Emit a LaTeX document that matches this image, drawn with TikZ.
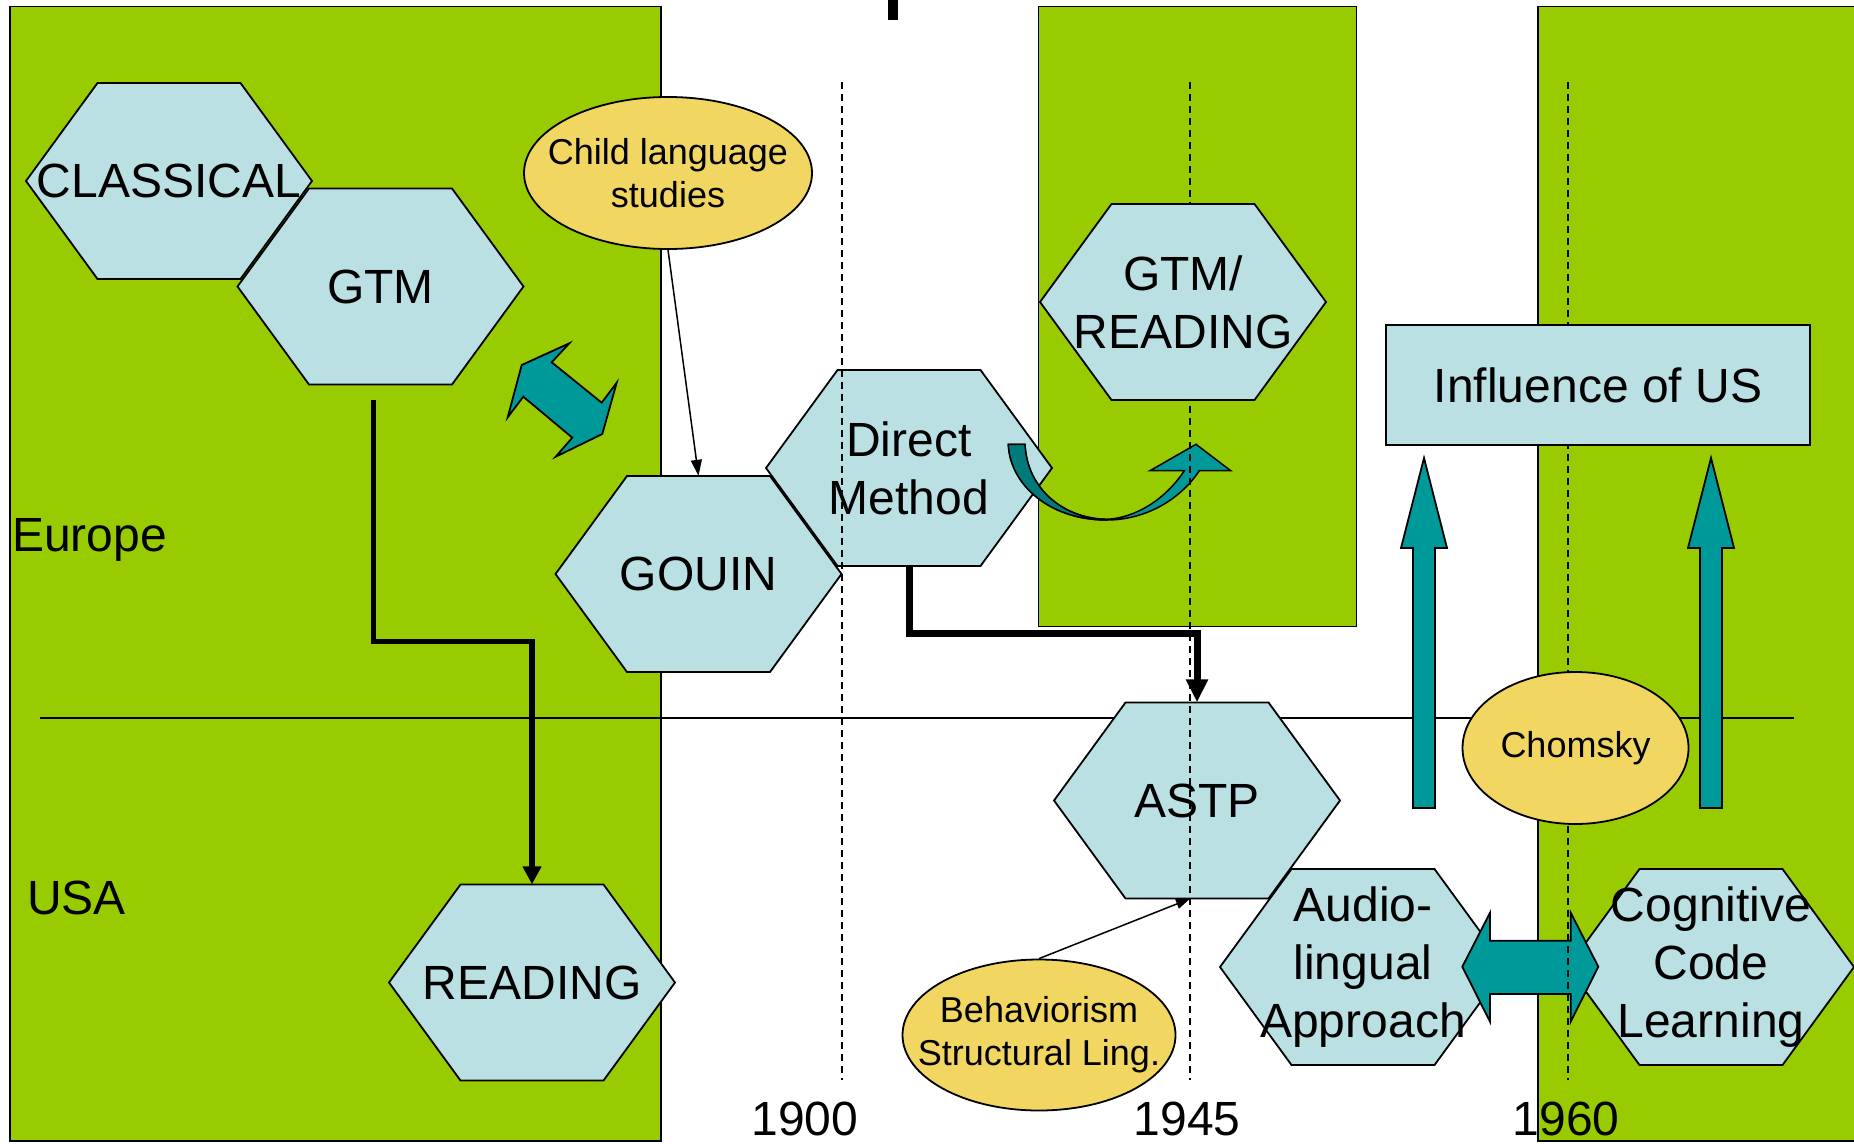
\documentclass[tikz,border=0pt]{standalone}
\usepackage{fontspec}
\setmainfont{Liberation Sans}
\usetikzlibrary{arrows.meta, positioning, shapes.geometric}

\definecolor{panelgreen}{HTML}{99CC00}
\definecolor{hexblue}{HTML}{BBE0E3}
\definecolor{ovalyellow}{HTML}{F2D662}
\definecolor{arrowteal}{HTML}{009999}
\definecolor{darkteal}{HTML}{007A7A}

\newcommand{\bigfont}{\fontsize{48}{58}\selectfont}
\newcommand{\smallfont}{\fontsize{36}{43}\selectfont}

% hexagon: name, x, y, text
\newcommand{\hexnode}[4]{%
  \path[hexshape] (#2-143,#3) -- (#2-71.5,#3-98) -- (#2+71.5,#3-98) -- (#2+143,#3)
    -- (#2+71.5,#3+98) -- (#2-71.5,#3+98) -- cycle;
  \node[hexbox] (#1) at (#2,#3) {#4};}

\begin{document}
\begin{tikzpicture}[
  x=1pt, y=-1pt,
  hexshape/.style={draw, line width=1.8pt, fill=hexblue, line join=miter},
  hexbox/.style={minimum width=286pt, minimum height=196pt, inner sep=0pt, align=center, font=\bigfont},
  oval/.style={ellipse, draw, line width=1.8pt, fill=ovalyellow, inner sep=0pt},
  ovaltext/.style={inner sep=0pt, align=center, font=\smallfont},
  panel/.style={fill=panelgreen, draw, line width=1.5pt},
  blockarrow/.style={fill=arrowteal, draw, line width=1.8pt, line join=miter},
  arrow/.style={-{Triangle[length=16pt, width=11pt]}, line width=1.5pt},
  thickarrow/.style={-{Triangle[length=18pt, width=18pt]}, line width=5.5pt},
  dashedline/.style={dash pattern=on 7pt off 5pt, line width=1.5pt},
  year/.style={anchor=base, font=\bigfont, inner sep=0pt},
  region/.style={anchor=base west, font=\bigfont, inner sep=0pt}
]
\useasboundingbox (0,0) rectangle (1854,1143);

% green periods
\path[panel] (10,6.5) rectangle (661,1141);
\path[panel] (1038.5,6.5) rectangle (1356.5,626.5);
\path[panel] (1538,6.5) rectangle (1870,1141);

% bit of the title
\fill (888,0) rectangle (898,20);

% Europe / USA divider
\draw[line width=1.5pt] (40,718) -- (1794,718);

\node[region] (europe) at (12,551) {Europe};
\node[region] (usa) at (27,914) {USA};

% Row 1: Europe
\hexnode{classical}{169}{181}{CLASSICAL}
\hexnode{gtm}{380.5}{286.5}{GTM}
\node[oval, minimum width=288pt, minimum height=152pt] (child) at (668,173) {};
\node[ovaltext] (childtext) at (child) {Child language\\studies};
\hexnode{direct}{909}{468}{Direct\\Method}
\hexnode{gouin}{698.5}{574}{GOUIN}

% Row 2: USA
\hexnode{reading}{532}{982.5}{READING}
\hexnode{astp}{1197}{800.5}{ASTP}
\hexnode{audio}{1363}{967}{Audio-\\lingual\\Approach}
\hexnode{cognitive}{1711}{967}{Cognitive\\Code\\Learning}
\node[oval, minimum width=273pt, minimum height=151pt] (behav) at (1039,1035) {};
\node[ovaltext] (behavtext) at (behav) {Behaviorism\\Structural Ling.};

% connectors
\draw[arrow] (child.south) -- (gouin.north);
\draw[thickarrow] ([xshift=-7pt, yshift=-15pt]gtm.south) -- ++(0,242) -| (reading.north);
\draw[thickarrow, line width=7pt, -{Triangle[length=23pt, width=21pt]}] (direct.south) -- ++(0,67) -| (astp.north);
\draw[arrow, -{Triangle[length=14pt, width=10pt]}] (behav.north) -- ([xshift=-7pt]astp.south);

% block arrows
\path[blockarrow] (569.3,343.3) -- (551.7,362.3) -- (601.7,402.7) -- (616.7,382.7) -- (602.3,434)
  -- (555.7,456.7) -- (572.3,437.7) -- (523.3,396.7) -- (507.7,417.3) -- (521.7,365) -- cycle;
\path[blockarrow] (1462.3,966.7) -- (1490,912.7) -- (1490,940.7) -- (1570.7,940.7) -- (1570.7,912.7)
  -- (1598.3,966.7) -- (1570.7,1021.7) -- (1570.7,994) -- (1490,994) -- (1490,1021.7) -- cycle;
\foreach \x in {1424,1711}
  \path[blockarrow] (\x-11,808) -- (\x-11,548) -- (\x-23,548) -- (\x,458) -- (\x+23,548) -- (\x+11,548) -- (\x+11,808) -- cycle;

% curved arrow Direct Method -> GTM/READING
\path[blockarrow, line width=1.5pt] (1008.3,444.3) .. controls (1010,485) and (1050,520) .. (1106.7,520)
  .. controls (1145,520) and (1180,500) .. (1199.3,470.7) -- (1230.7,470.7) -- (1196,444.3) -- (1150,470.7)
  -- (1184.3,470.7) .. controls (1165,500) and (1135,518) .. (1106.7,519.3)
  .. controls (1065,519) and (1027,490) .. (1025,444.3) -- cycle;
\path[blockarrow, fill=darkteal, line width=1.5pt] (1008.3,444.3) .. controls (1010,485) and (1050,520) .. (1106.7,520)
  -- (1106.7,519.3) .. controls (1065,519) and (1027,490) .. (1025,444.3) -- cycle;

% years
\foreach \x in {842,1190,1568}
  \draw[dashedline] (\x,82) -- (\x,1080);
\node[year] (y1900) at (805,1135) {1900};
\node[year] (y1945) at (1187,1135) {1945};
\node[year] (y1960) at (1566,1135) {1960};

% on top of the time lines
\hexnode{gtmreading}{1183}{302}{GTM/\\READING}
\node[draw, line width=1.8pt, fill=hexblue, minimum width=423.5pt, minimum height=120.5pt, font=\bigfont] (influence) at (1598,385) {Influence of US};
\node[oval, minimum width=226pt, minimum height=152pt] (chomsky) at (1575.5,748) {};
\node[ovaltext] (chomskytext) at (chomsky) {Chomsky};

\end{tikzpicture}
\end{document}
